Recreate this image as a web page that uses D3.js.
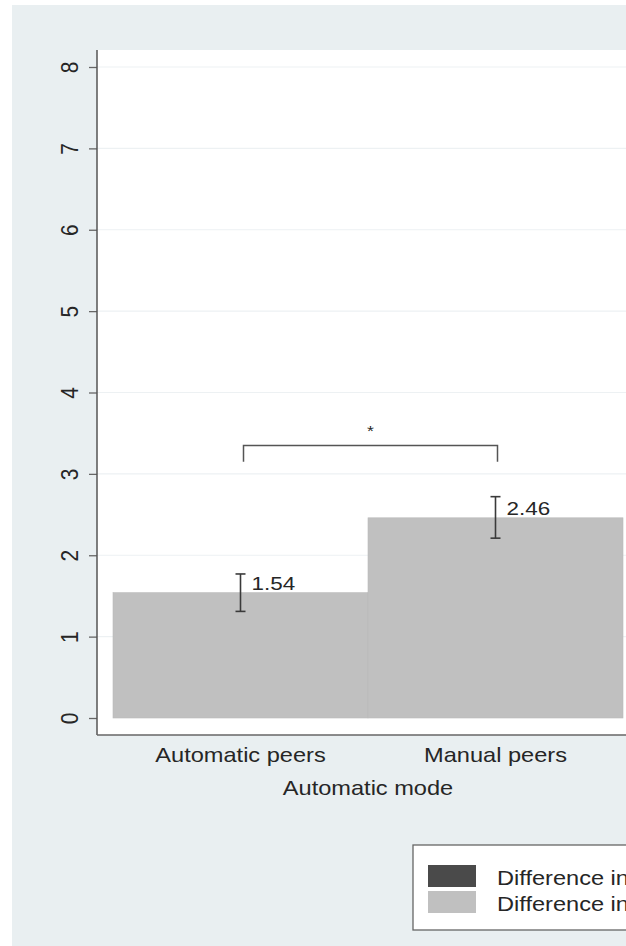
<!DOCTYPE html>
<html>
<head>
<meta charset="utf-8">
<script src="https://cdn.jsdelivr.net/npm/d3@7"></script>
<style>
  html, body { margin: 0; padding: 0; background: #fff; overflow: hidden; }
  svg { display: block; font-family: Arial, "Liberation Sans", sans-serif; }
</style>
</head>
<body>
<div id="chart"></div>
<script>
// data
const categories = ["Automatic peers", "Manual peers"];
const means = [1.54, 2.46];
const ciLow = [1.31, 2.21];
const ciHigh = [1.77, 2.72];
const valueLabels = ["1.54", "2.46"];
const yTicks = [0, 1, 2, 3, 4, 5, 6, 7, 8];
const groupLabel = "Automatic mode";
const legendLabels = ["Difference in prices", "Difference in quantities"];
const legendColors = ["#4a4a4a", "#c0c0c0"];
const bracket = { from: 0, to: 1, y: 3.35, drop: 0.2, text: "*" };

const width = 626, height = 946;
const stretch = 1.18; // the source picture is a bit wider than tall

const svg = d3.select("#chart")
  .append("svg")
  .attr("width", width)
  .attr("height", height);

// text drawn at (x, y) with the same horizontal stretch as the source
function label(g, x, y, txt, size, anchor) {
  return g.append("text")
    .attr("transform", `translate(${x},${y}) scale(${stretch},1)`)
    .attr("text-anchor", anchor || "start")
    .attr("font-size", size)
    .attr("fill", "#262626")
    .text(txt);
}

// graph background
svg.append("rect")
  .attr("x", 12).attr("y", 5)
  .attr("width", width - 12).attr("height", height - 5)
  .attr("fill", "#e9eff1");

// plot region
const plotLeft = 97, plotTop = 50, plotBottom = 735, plotRight = 640;
svg.append("rect")
  .attr("x", plotLeft).attr("y", plotTop)
  .attr("width", plotRight - plotLeft).attr("height", plotBottom - plotTop)
  .attr("fill", "#ffffff");

const y = d3.scaleLinear().domain([0, 8]).range([718, 67]);
const x = d3.scaleBand().domain(categories).range([113, 623]).padding(0);

// grid lines
svg.append("g")
  .selectAll("line")
  .data(yTicks.filter(d => d > 0))
  .enter()
  .append("line")
  .attr("x1", plotLeft).attr("x2", plotRight)
  .attr("y1", d => y(d)).attr("y2", d => y(d))
  .attr("stroke", "#edf1f3")
  .attr("stroke-width", 1.2);

// bars
svg.append("g")
  .selectAll("rect")
  .data(categories)
  .enter()
  .append("rect")
  .attr("x", d => x(d))
  .attr("y", (d, i) => y(means[i]))
  .attr("width", x.bandwidth())
  .attr("height", (d, i) => y(0) - y(means[i]))
  .attr("fill", legendColors[1])
  .attr("stroke", "#bababa")
  .attr("stroke-width", 0.6);

// error bars and value labels
const eb = svg.append("g").attr("stroke", "#3a3a3a").attr("stroke-width", 1.6);
categories.forEach((c, i) => {
  const cx = x(c) + x.bandwidth() / 2;
  eb.append("line").attr("x1", cx).attr("x2", cx)
    .attr("y1", y(ciLow[i])).attr("y2", y(ciHigh[i]));
  [ciLow[i], ciHigh[i]].forEach(v => {
    eb.append("line").attr("x1", cx - 5).attr("x2", cx + 5)
      .attr("y1", y(v)).attr("y2", y(v));
  });
  label(svg, cx + 11, y(means[i]) - 3, valueLabels[i], 19);
});

// significance bracket
const bx1 = x(categories[bracket.from]) + x.bandwidth() / 2 + 3;
const bx2 = x(categories[bracket.to]) + x.bandwidth() / 2 + 2;
svg.append("path")
  .attr("d", `M${bx1},${y(bracket.y - bracket.drop)} V${y(bracket.y)} H${bx2} V${y(bracket.y - bracket.drop)}`)
  .attr("fill", "none")
  .attr("stroke", "#555")
  .attr("stroke-width", 1.5);
label(svg, (bx1 + bx2) / 2, y(bracket.y) - 9, bracket.text, 15, "middle");

// y axis
const yAxis = svg.append("g")
  .attr("transform", `translate(${plotLeft},0)`)
  .attr("font-size", 21)
  .attr("font-family", "Arial, 'Liberation Sans', sans-serif")
  .call(d3.axisLeft(y).tickValues(yTicks).tickSize(8).tickFormat(d3.format("d")));
yAxis.attr("font-size", 21);
yAxis.select(".domain").remove();
yAxis.append("line")
  .attr("x1", 0).attr("x2", 0).attr("y1", plotTop).attr("y2", plotBottom)
  .attr("stroke", "#555").attr("stroke-width", 1.5);
yAxis.selectAll(".tick line").attr("stroke", "#666").attr("stroke-width", 1.3);
yAxis.selectAll(".tick text")
  .style("font-size", "21px")
  .attr("fill", "#262626")
  .attr("text-anchor", "middle")
  .attr("x", null).attr("dy", null)
  .attr("transform", `translate(-28,0) scale(${stretch},1) rotate(-90)`)
  .attr("dominant-baseline", "central");

// x axis line
svg.append("line")
  .attr("x1", plotLeft).attr("x2", width)
  .attr("y1", plotBottom).attr("y2", plotBottom)
  .attr("stroke", "#666").attr("stroke-width", 1.5);

// category labels
categories.forEach(c => {
  label(svg, x(c) + x.bandwidth() / 2, 762, c, 20, "middle");
});
label(svg, (x(categories[0]) + x(categories[1]) + x.bandwidth()) / 2, 795, groupLabel, 20, "middle");

// legend
const lg = svg.append("g").attr("transform", "translate(413,845)");
lg.append("rect")
  .attr("width", 260).attr("height", 85)
  .attr("fill", "#fff")
  .attr("stroke", "#666").attr("stroke-width", 1.3);
legendLabels.forEach((t, i) => {
  lg.append("rect")
    .attr("x", 15).attr("y", 20 + i * 26)
    .attr("width", 48).attr("height", 22)
    .attr("fill", legendColors[i]);
  label(lg, 84, 40 + i * 26, t, 20);
});
</script>
</body>
</html>
